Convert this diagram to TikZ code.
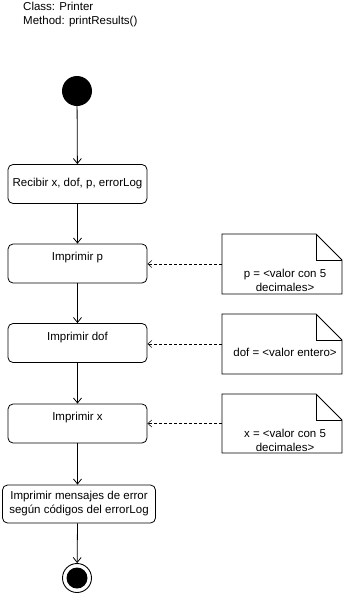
\documentclass[tikz,border=0pt]{standalone}
\usepackage{fontspec}
\setmainfont{Liberation Sans}
\usetikzlibrary{arrows.meta}
\begin{document}
\begin{tikzpicture}[x=1pt,y=-1pt,
  every node/.style={font=\fontsize{11.5}{14}\selectfont},
  action/.style={draw,rounded corners=5pt,line width=0.8pt,minimum width=139pt,minimum height=39pt,inner sep=0pt},
  toplabel/.style={label={[anchor=center,yshift=-14pt,inner sep=0pt]north:#1}},
  flow/.style={draw,line width=0.8pt,-{Straight Barb[length=5pt,width=8pt]}},
  dep/.style={draw,line width=0.6pt,dash pattern=on 3pt off 2pt,-{Straight Barb[length=4pt,width=7pt]}},
  notebox/.style={line width=0.8pt}]
\useasboundingbox (0,0) rectangle (344,595);

% header
\node[anchor=north west,align=left,inner sep=0pt] (hdr) at (23,2) {Class: Printer\\Method: printResults()};

% initial and final states
\node[circle,fill=black,minimum size=30pt,inner sep=0pt] (start) at (77,91) {};
\node[circle,draw,line width=0.9pt,minimum size=29pt,inner sep=0pt] (stop) at (77,578) {};
\fill (stop.center) circle (10.5pt);

% actions
\node[action] (recv) at (77.5,184) {Recibir x, dof, p, errorLog};
\node[action,toplabel={Imprimir p}] (pp) at (77.5,263.5) {};
\node[action,toplabel={Imprimir dof}] (pdof) at (77.5,343) {};
\node[action,toplabel={Imprimir x}] (px) at (77.5,423.5) {};
\node[action,minimum width=153pt,minimum height=38pt,align=center] (perr) at (79,504)
  {Imprimir mensajes de error\\según códigos del errorLog};

% control flow
\draw[flow] (start) -- (recv);
\draw[flow] (recv) -- (pp);
\draw[flow] (pp) -- (pdof);
\draw[flow] (pdof) -- (px);
\draw[flow] (px) -- (perr.north -| px);
\draw[flow] (perr.south -| px) -- (stop);

% notes with folded corner
\newcommand{\umlnote}[5]{%
  \draw[notebox] (#2,#3) -- (#4-26,#3) -- (#4,#3+26) -- (#4,#5) -- (#2,#5) -- cycle;
  \draw[notebox] (#4-26,#3) -- (#4-26,#3+26) -- (#4,#3+26);
  \coordinate (#1) at (#2,{(#3+#5)/2});
}
\umlnote{n1}{222}{234}{342}{294}
\umlnote{n2}{222}{314}{342}{374}
\umlnote{n3}{222}{394}{342}{453}
\node[align=center,inner sep=0pt] (t1) at (285,280) {p = <valor con 5\\decimales>};
\node[inner sep=0pt] (t2) at (285,352) {dof = <valor entero>};
\node[align=center,inner sep=0pt] (t3) at (285,440) {x = <valor con 5\\decimales>};

\draw[dep] (n1) -- (n1 -| pp.east);
\draw[dep] (n2) -- (n2 -| pdof.east);
\draw[dep] (n3) -- (n3 -| px.east);
\end{tikzpicture}
\end{document}
